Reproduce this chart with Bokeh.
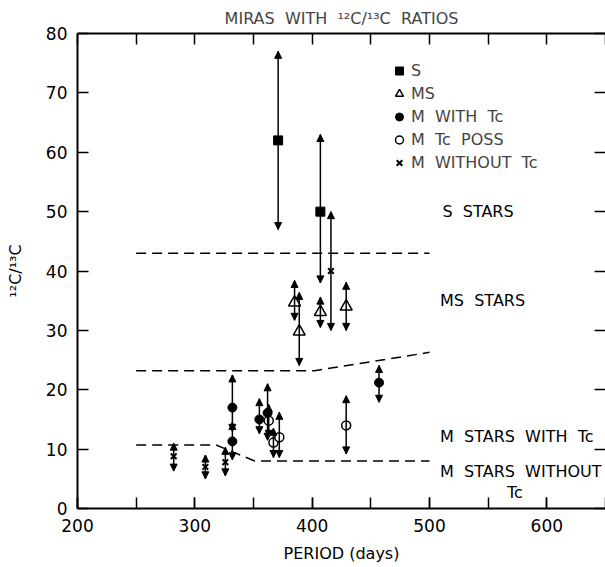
from bokeh.plotting import figure
from bokeh.models import (ColumnDataSource, Whisker, NormalHead, Legend, LegendItem,
                          Label, LinearAxis, SingleIntervalTicker, Range1d)
from bokeh.embed import file_html
from bokeh.resources import INLINE

FONT = "DejaVu Sans"
SP = "\u00a0 "  # double space that survives SVG whitespace collapsing

# ---- data ----
s_period = [371, 407]
s_ratio = [62, 50]
s_lo = [47, 38]
s_hi = [77, 63]

ms_period = [385, 389, 407, 429]
ms_ratio = [34.7, 29.8, 33.1, 34.0]
ms_lo = [31.7, 24.1, 30.5, 30.0]
ms_hi = [38.4, 36.4, 35.6, 38.1]

mtc_period = [332, 332, 355, 362, 457]
mtc_ratio = [17.0, 11.3, 15.0, 16.1, 21.2]
mtc_lo = [13.0, 8.2, 12.6, 11.5, 17.9]
mtc_hi = [22.5, 14.5, 18.5, 21.0, 24.1]

mposs_period = [363, 367, 372, 429]
mposs_ratio = [14.8, 11.1, 12.0, 14.0]
mposs_lo = [12.0, 8.6, 8.6, 9.2]
mposs_hi = [17.5, 13.5, 16.2, 19.0]

mno_period = [282, 309, 326, 416]
mno_ratio = [8.8, 7.0, 7.8, 40.0]
mno_lo = [6.3, 5.0, 5.5, 30.0]
mno_hi = [11.0, 9.0, 10.3, 50.0]

upper_x = [250, 500]
upper_y = [43.0, 43.0]
middle_x = [250, 402, 500]
middle_y = [23.2, 23.2, 26.3]
lower_x = [250, 318, 351, 500]
lower_y = [10.7, 10.7, 8.0, 8.0]

title_text = "MIRAS  WITH  \u00b9\u00b2C/\u00b9\u00b3C  RATIOS"
legend_labels = ["S", "MS", "M  WITH  Tc", "M  Tc  POSS", "M  WITHOUT  Tc"]
region_labels = ["S  STARS", "MS  STARS", "M  STARS  WITH  Tc", "M  STARS  WITHOUT", "Tc"]

x_ticks_interval = 100
y_ticks_interval = 10

def nb(t):
    return t.replace("  ", SP)

# ---- figure ----
p = figure(width=605, height=567, x_range=Range1d(200, 650), y_range=Range1d(0, 80),
           output_backend="svg", toolbar_location=None,
           min_border_left=77, min_border_top=33, min_border_bottom=59, min_border_right=0,
           x_axis_location=None, y_axis_location=None)
p.title.text = nb(title_text)
p.title.align = "center"
p.title.text_font = FONT
p.title.text_font_size = "16px"
p.title.text_font_style = "normal"
p.title.standoff = 12
p.grid.visible = False
p.outline_line_color = None
p.background_fill_color = "white"

def style_axis(ax):
    ax.axis_line_width = 2
    ax.axis_line_color = "black"
    ax.major_tick_in = 11
    ax.major_tick_out = 0
    ax.major_tick_line_width = 1.5
    ax.minor_tick_in = 11
    ax.minor_tick_out = 0
    ax.minor_tick_line_width = 1.5
    ax.major_label_text_font = FONT
    ax.major_label_text_font_size = "17px"
    ax.major_label_text_color = "black"
    ax.axis_label_text_font = FONT
    ax.axis_label_text_font_size = "16px"
    ax.axis_label_text_font_style = "normal"
    ax.axis_label_text_color = "black"

def hide_labels(ax):
    ax.major_label_text_font_size = "1px"
    ax.major_label_text_color = None
    ax.major_label_text_alpha = 0
    ax.major_label_standoff = 0

xb = LinearAxis(ticker=SingleIntervalTicker(interval=x_ticks_interval, num_minor_ticks=2),
                axis_label="PERIOD (days)")
style_axis(xb)
xb.major_label_standoff = 10
xb.axis_label_standoff = 9
p.add_layout(xb, "below")

xt = LinearAxis(ticker=SingleIntervalTicker(interval=50, num_minor_ticks=0))
style_axis(xt)
hide_labels(xt)
xt.minor_tick_line_color = None
p.add_layout(xt, "above")

yl = LinearAxis(ticker=SingleIntervalTicker(interval=y_ticks_interval, num_minor_ticks=0),
                axis_label="\u00b9\u00b2C/\u00b9\u00b3C")
style_axis(yl)
yl.minor_tick_line_color = None
yl.major_label_standoff = 10
yl.axis_label_standoff = 18
p.add_layout(yl, "left")

yr = LinearAxis(ticker=SingleIntervalTicker(interval=y_ticks_interval, num_minor_ticks=0))
style_axis(yr)
hide_labels(yr)
yr.axis_line_color = None
yr.minor_tick_line_color = None
p.add_layout(yr, "right")

# ---- boundaries ----
for bx, by in [(upper_x, upper_y), (middle_x, middle_y), (lower_x, lower_y)]:
    p.line(bx, by, line_color="black", line_width=1.5, line_dash="10 6")

# ---- error bars ----
def add_bars(xs, lo, hi):
    src = ColumnDataSource(dict(x=xs, lo=lo, hi=hi))
    w = Whisker(source=src, base="x", lower="lo", upper="hi", dimension="height",
                line_color="black", line_width=1.5,
                upper_head=NormalHead(size=7, fill_color="black", line_color="black", line_width=1),
                lower_head=NormalHead(size=7, fill_color="black", line_color="black", line_width=1))
    w.level = "glyph"
    p.add_layout(w)

add_bars(s_period, s_lo, s_hi)
add_bars(ms_period, ms_lo, ms_hi)
add_bars(mtc_period, mtc_lo, mtc_hi)
add_bars(mposs_period, mposs_lo, mposs_hi)
add_bars(mno_period, mno_lo, mno_hi)

# ---- markers ----
r_s = p.scatter(s_period, s_ratio, marker="square", size=9, fill_color="black", line_color="black")
r_ms = p.scatter(ms_period, ms_ratio, marker="triangle", size=12, fill_color="white",
                 line_color="black", line_width=1.5)
r_mtc = p.scatter(mtc_period, mtc_ratio, marker="circle", size=9, fill_color="black", line_color="black")
r_mposs = p.scatter(mposs_period, mposs_ratio, marker="circle", size=9, fill_color="white",
                    line_color="black", line_width=1.5)
r_mno = p.scatter(mno_period, mno_ratio, marker="x", size=8, line_color="black", line_width=2)

renderers = [r_s, r_ms, r_mtc, r_mposs, r_mno]
legend = Legend(items=[LegendItem(label=nb(l), renderers=[r]) for l, r in zip(legend_labels, renderers)],
                location=(312, 334), border_line_color=None, background_fill_alpha=0,
                glyph_width=20, glyph_height=23, label_height=23, spacing=0, padding=0,
                margin=0, label_standoff=2, label_text_font=FONT, label_text_font_size="16px")
p.add_layout(legend)

# ---- region labels ----
region_pos = [(511, 50.0), (509, 35.0), (509, 12.1), (509, 6.2), (566, 2.7)]
for (tx, ty), t in zip(region_pos, region_labels):
    p.add_layout(Label(x=tx, y=ty, text=nb(t), text_baseline="middle", text_font=FONT,
                       text_font_size="16px", text_color="black"))

open("out.html", "w").write(file_html(p, INLINE))
